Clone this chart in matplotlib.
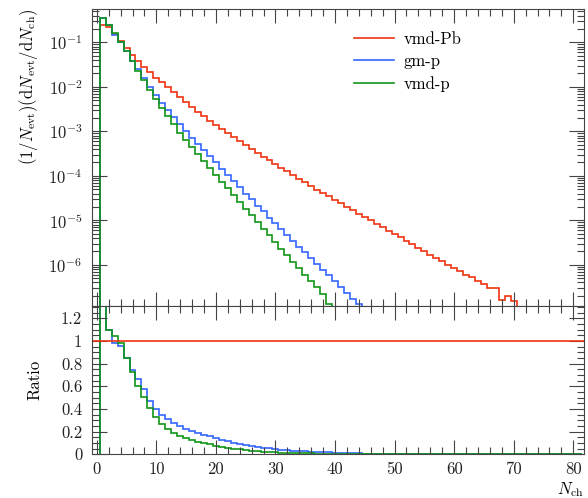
import numpy as np
import matplotlib.pyplot as plt
from matplotlib.lines import Line2D
from matplotlib.ticker import LogLocator, MultipleLocator, FuncFormatter, NullFormatter

plt.rcParams["mathtext.fontset"] = "cm"
plt.rcParams["font.family"] = "cmr10"
plt.rcParams["axes.formatter.use_mathtext"] = True
plt.rcParams["font.size"] = 12

# ------------------------------------------------------------------
# Data: log10 of (1/Nevt) dNevt/dNch per N_ch bin, starting at N_ch = 1
# ------------------------------------------------------------------
labels = ["vmd-Pb", "gm-p", "vmd-p"]
colors = ["#EE3311", "#3366FF", "#109618"]

vmd_pb_log10 = [
    -0.60, -0.65, -0.82, -0.98, -1.13, -1.28, -1.42, -1.55, -1.67, -1.79,
    -1.90, -2.01, -2.12, -2.23, -2.34, -2.45, -2.56, -2.66, -2.76, -2.86,
    -2.95, -3.04, -3.13, -3.22, -3.31, -3.40, -3.48, -3.57, -3.65, -3.74,
    -3.82, -3.90, -3.98, -4.07, -4.15, -4.23, -4.31, -4.38, -4.46, -4.54,
    -4.62, -4.69, -4.77, -4.85, -4.92, -5.00, -5.08, -5.15, -5.23, -5.30,
    -5.38, -5.46, -5.54, -5.62, -5.69, -5.77, -5.85, -5.92, -6.00, -6.07,
    -6.13, -6.22, -6.28, -6.37, -6.44, -6.52, -6.52, -6.80, -6.70, -6.82,
]
gm_p_log10 = [
    -0.46, -0.61, -0.83, -1.00, -1.20, -1.41, -1.60, -1.79, -2.00, -2.19,
    -2.36, -2.52, -2.68, -2.84, -3.00, -3.14, -3.28, -3.42, -3.56, -3.70,
    -3.84, -3.98, -4.12, -4.26, -4.40, -4.53, -4.67, -4.80, -4.94, -5.07,
    -5.20, -5.33, -5.46, -5.59, -5.72, -5.85, -5.98, -6.11, -6.24, -6.37,
    -6.50, -6.63, -6.76, -6.88,
]
vmd_p_log10 = [
    -0.46, -0.61, -0.80, -0.99, -1.20, -1.42, -1.64, -1.85, -2.06, -2.27,
    -2.47, -2.66, -2.84, -3.03, -3.19, -3.36, -3.51, -3.67, -3.82, -3.98,
    -4.13, -4.28, -4.44, -4.59, -4.74, -4.89, -5.04, -5.19, -5.34, -5.49,
    -5.64, -5.78, -5.93, -6.08, -6.22, -6.37, -6.51, -6.66, -6.88,
]
n_ratio_bins = 81

series = [np.power(10.0, np.array(v)) for v in (vmd_pb_log10, gm_p_log10, vmd_p_log10)]


def bin_edges(n):
    return np.arange(n + 1) + 0.5


def ratio_to_ref(vals, ref, n):
    out = np.zeros(n)
    m = min(len(vals), len(ref))
    out[:m] = vals[:m] / ref[:m]
    return out


W, H = 588, 498
fig = plt.figure(figsize=(W / 100, H / 100), dpi=100)
left, right = 92 / W, 584 / W
top, mid, bot = 1 - 9 / H, 1 - 305.7 / H, 1 - 454.3 / H
ax = fig.add_axes([left, mid, right - left, top - mid])
rax = fig.add_axes([left, bot, right - left, mid - bot], sharex=ax)

for vals, col in zip(series, colors):
    ax.stairs(vals, bin_edges(len(vals)), color=col, lw=1.2, baseline=1e-12)

rax.axhline(1.0, color=colors[0], lw=1.2)
for vals, col in zip(series[1:], colors[1:]):
    r = ratio_to_ref(vals, series[0], n_ratio_bins)
    rax.stairs(r, bin_edges(n_ratio_bins), color=col, lw=1.2, baseline=0)

ax.set_yscale("log")
ax.set_ylim(10 ** -6.92, 10 ** -0.25)
ax.set_xlim(-0.8, 81.8)
rax.set_ylim(0, 1.31)

for a in (ax, rax):
    a.tick_params(which="both", direction="in", top=True, right=True, width=0.8,
                  colors="#444444", labelcolor="#222222")
    a.tick_params(which="major", length=10)
    a.tick_params(which="minor", length=5)
    a.tick_params(axis="y", which="major", length=10.5, pad=7)
    a.tick_params(axis="x", which="major", pad=5)
    a.xaxis.set_major_locator(MultipleLocator(10))
    a.xaxis.set_minor_locator(MultipleLocator(2))
    for s in a.spines.values():
        s.set_color("#444444")
        s.set_linewidth(0.8)

ax.tick_params(labelbottom=False)
ax.yaxis.set_major_locator(LogLocator(base=10, numticks=20))
ax.yaxis.set_minor_locator(LogLocator(base=10, subs=np.arange(2, 10), numticks=20))
ax.yaxis.set_major_formatter(FuncFormatter(lambda v, p: r"$10^{%d}$" % round(np.log10(v))))
ax.yaxis.set_minor_formatter(NullFormatter())

rax.yaxis.set_major_locator(MultipleLocator(0.2))
rax.yaxis.set_minor_locator(MultipleLocator(0.05))
rax.yaxis.set_major_formatter(FuncFormatter(lambda v, p: "%g" % round(v, 2)))
rax.xaxis.set_major_formatter(FuncFormatter(lambda v, p: "%d" % v))

ax.set_ylabel(r"$(1/N_{\mathrm{evt}})(\mathrm{d}N_{\mathrm{evt}}/\mathrm{d}N_{\mathrm{ch}})$",
              loc="top", fontsize=12)
ax.yaxis.set_label_coords(-0.105, 1.0)
rax.set_ylabel("Ratio", fontsize=12)
rax.yaxis.set_label_coords(-0.1, 0.5)
rax.set_xlabel(r"$N_{\mathrm{ch}}$", loc="right", fontsize=12)
rax.xaxis.set_label_coords(1.0, -0.175)

handles = [Line2D([], [], color=c, lw=1.2) for c in colors]
ax.legend(handles, labels, loc="upper left", bbox_to_anchor=(0.5325, 0.925),
          frameon=False, handlelength=2.4, handletextpad=0.6, labelspacing=0.42,
          borderpad=0, borderaxespad=0, fontsize=12)

fig.savefig("out.png", dpi=100)
